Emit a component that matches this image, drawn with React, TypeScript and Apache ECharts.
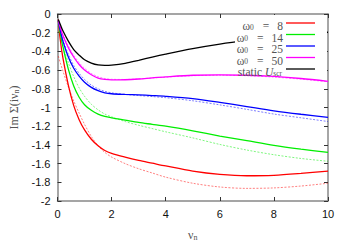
import React, { useEffect, useRef } from "react";
import * as echarts from "echarts";

// Matsubara frequencies (x)
const nu = [0.03, 0.1, 0.2, 0.4, 0.6, 0.8, 1.0, 1.25, 1.5, 1.75, 2, 2.5, 3, 3.5, 4, 5, 6, 7, 8, 9, 10];

// omega0 = 8
const w8 = [-0.06, -0.27, -0.47, -0.76, -0.98, -1.13, -1.24, -1.34, -1.41, -1.46, -1.49, -1.53, -1.565, -1.595, -1.625, -1.68, -1.715, -1.73, -1.725, -1.705, -1.68];
const w8Dash = [-0.45, -0.52, -0.61, -0.78, -0.93, -1.06, -1.18, -1.31, -1.41, -1.48, -1.53, -1.6, -1.655, -1.7, -1.745, -1.81, -1.85, -1.865, -1.86, -1.84, -1.81];
// omega0 = 14
const w14 = [-0.07, -0.2, -0.35, -0.59, -0.77, -0.89, -0.97, -1.03, -1.07, -1.095, -1.11, -1.135, -1.16, -1.18, -1.2, -1.25, -1.305, -1.355, -1.405, -1.445, -1.48];
const w14Dash = [-0.18, -0.25, -0.34, -0.52, -0.67, -0.79, -0.88, -0.965, -1.025, -1.07, -1.1, -1.15, -1.19, -1.225, -1.26, -1.325, -1.395, -1.455, -1.505, -1.545, -1.575];
// omega0 = 25
const w25 = [-0.07, -0.17, -0.29, -0.46, -0.58, -0.665, -0.73, -0.785, -0.82, -0.843, -0.853, -0.86, -0.865, -0.872, -0.88, -0.905, -0.945, -0.99, -1.035, -1.072, -1.105];
const w25Dash = [-0.13, -0.19, -0.28, -0.43, -0.55, -0.635, -0.7, -0.76, -0.8, -0.827, -0.843, -0.86, -0.872, -0.883, -0.895, -0.928, -0.972, -1.02, -1.07, -1.11, -1.15];
// omega0 = 50
const w50 = [-0.07, -0.14, -0.23, -0.36, -0.46, -0.54, -0.6, -0.65, -0.685, -0.7, -0.705, -0.703, -0.695, -0.683, -0.672, -0.655, -0.65, -0.655, -0.668, -0.69, -0.72];
const w50Dash = [-0.11, -0.15, -0.22, -0.34, -0.44, -0.52, -0.58, -0.635, -0.67, -0.69, -0.698, -0.7, -0.694, -0.685, -0.675, -0.66, -0.655, -0.66, -0.675, -0.697, -0.725];
// static U_scr
const staticU = [-0.06, -0.11, -0.18, -0.29, -0.38, -0.44, -0.49, -0.525, -0.545, -0.55, -0.547, -0.527, -0.495, -0.46, -0.428, -0.37, -0.322, -0.283, -0.25, -0.22, -0.195];

const xTicks = { min: 0, max: 10, interval: 2 };
const yTicks = { min: -2, max: 0, interval: 0.2 };

const legendItems = [
  { label: "{a|ω}{s|0}{e|=}{a|8}", color: "#ff0000" },
  { label: "{a|ω}{s|0}{e|=}{a|14}", color: "#00ee00" },
  { label: "{a|ω}{s|0}{e|=}{a|25}", color: "#0000ff" },
  { label: "{a|ω}{s|0}{e|=}{a|50}", color: "#ff00ff" },
  { label: "{a|static }{i|U}{s|scr}", color: "#000000" },
];

const SERIF = "'Liberation Serif', 'DejaVu Serif', serif";
const SANS = "'Liberation Sans', Arial, sans-serif";
const GRAY = "#555";
const legendRich = {
  a: { fontFamily: SERIF, fontSize: 11.5, color: GRAY, lineHeight: 10 },
  e: { fontFamily: SERIF, fontSize: 11.5, color: GRAY, lineHeight: 10, padding: [0, 8, 0, 8] },
  i: { fontFamily: SERIF, fontSize: 11.5, fontStyle: "italic", color: GRAY, lineHeight: 10 },
  s: { fontFamily: SERIF, fontSize: 7.5, color: GRAY, lineHeight: 7, verticalAlign: "bottom", padding: [3, 1, 0, 0] },
};
const axisRich = {
  a: { fontFamily: SERIF, fontSize: 12, color: GRAY, lineHeight: 13 },
  s: { fontFamily: SERIF, fontSize: 8, color: GRAY, lineHeight: 9, verticalAlign: "bottom", padding: [4, 0, 0, 0] },
};

function solid(name: string, ys: number[], color: string) {
  return {
    name,
    type: "line",
    data: nu.map((x, i) => [x, ys[i]]),
    showSymbol: false,
    smooth: 0.3,
    lineStyle: { color, width: 1.3 },
    itemStyle: { color },
    z: 3,
  };
}
function dashed(name: string, ys: number[], color: string) {
  return {
    name,
    type: "line",
    data: nu.map((x, i) => [x, ys[i]]),
    showSymbol: false,
    smooth: 0.3,
    lineStyle: { color, width: 1, opacity: 0.5, type: [2, 1.5] },
    itemStyle: { color },
    z: 2,
  };
}

export default function App() {
  const ref = useRef<HTMLDivElement>(null);
  useEffect(() => {
    if (!ref.current) return;
    const chart = echarts.init(ref.current, null, { renderer: "svg" });
    const axisLine = { show: true, lineStyle: { color: "#888", width: 1.5 } };
    const axisTick = { show: true, inside: true, length: 4, lineStyle: { color: "#333", width: 1 } };
    const legendY = [23, 34.5, 46, 57.5, 69];
    const graphicEls: any[] = [
      {
        type: "rect",
        shape: { x: 235, y: 15, width: 92, height: 59 },
        style: { fill: "#fff" },
        z: 10,
      },
    ];
    legendItems.forEach((it, k) => {
      graphicEls.push({
        type: "text",
        x: 283,
        y: legendY[k] + 3,
        z: 11,
        style: {
          text: it.label,
          rich: legendRich,
          align: "right",
          verticalAlign: "middle",
          fill: GRAY,
        },
      });
      graphicEls.push({
        type: "line",
        z: 11,
        shape: { x1: 286, y1: legendY[k], x2: 315, y2: legendY[k] },
        style: { stroke: it.color, lineWidth: 1.3 },
      });
    });

    chart.setOption({
      animation: false,
      backgroundColor: "#fff",
      grid: { left: 57, top: 14, width: 271, height: 193, containLabel: false },
      xAxis: [
        {
          type: "value",
          ...xTicks,
          axisLine: { ...axisLine, onZero: false },
          axisTick,
          splitLine: { show: false },
          axisLabel: { color: "#111", fontFamily: SANS, fontSize: 11, margin: 7 },
          name: "{a|ν}{s|n}",
          nameLocation: "middle",
          nameGap: 27,
          nameTextStyle: { rich: axisRich },
        },
        {
          type: "value",
          position: "top",
          ...xTicks,
          axisLine: { ...axisLine, onZero: false },
          axisTick,
          splitLine: { show: false },
          axisLabel: { show: false },
        },
      ],
      yAxis: [
        {
          type: "value",
          ...yTicks,
          axisLine: { ...axisLine, onZero: false },
          axisTick,
          splitLine: { show: false },
          axisLabel: { color: "#111", fontFamily: SANS, fontSize: 11, margin: 7 },
          name: "{a|Im Σ(iν}{s|n}{a|)}",
          nameLocation: "middle",
          nameGap: 37,
          nameTextStyle: { rich: axisRich },
        },
        {
          type: "value",
          position: "right",
          ...yTicks,
          axisLine: { ...axisLine, onZero: false },
          axisTick,
          splitLine: { show: false },
          axisLabel: { show: false },
        },
      ],
      series: [
        solid("ω0 = 8", w8, "#ff0000"),
        dashed("ω0 = 8 (dashed)", w8Dash, "#ff0000"),
        solid("ω0 = 14", w14, "#00ee00"),
        dashed("ω0 = 14 (dashed)", w14Dash, "#00ee00"),
        solid("ω0 = 25", w25, "#0000ff"),
        dashed("ω0 = 25 (dashed)", w25Dash, "#0000ff"),
        solid("ω0 = 50", w50, "#ff00ff"),
        dashed("ω0 = 50 (dashed)", w50Dash, "#ff00ff"),
        solid("static U_scr", staticU, "#000000"),
      ],
      graphic: graphicEls,
    });
    return () => chart.dispose();
  }, []);
  return (
    <div
      ref={ref}
      style={{ position: "absolute", left: 0, top: 0, width: 351, height: 246, background: "#fff" }}
    />
  );
}
